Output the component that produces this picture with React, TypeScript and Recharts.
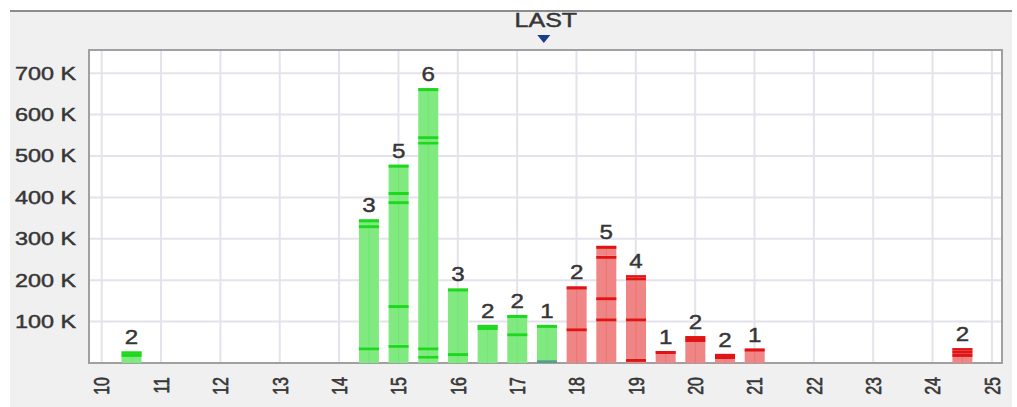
import React from 'react';
import {
  ComposedChart,
  Bar,
  XAxis,
  YAxis,
  CartesianGrid,
  ReferenceArea,
  ReferenceLine,
} from 'recharts';

// price levels of the order-book histogram
const prices = [10.5, 14.5, 15, 15.5, 16, 16.5, 17, 17.5, 18, 18.5, 19, 19.5, 20, 20.5, 21, 24.5];
// number of orders shown above each bar
const orderCounts = [2, 3, 5, 6, 3, 2, 2, 1, 2, 5, 4, 1, 2, 2, 1, 2];
// side of each bar
const sides = [
  'buy', 'buy', 'buy', 'buy', 'buy', 'buy', 'buy', 'buy',
  'sell', 'sell', 'sell', 'sell', 'sell', 'sell', 'sell', 'sell',
];
// cumulative volume (thousands) at each order line, bottom to top
const levelsK: number[][] = [
  [22, 28],
  [38, 333, 347],
  [44, 140, 391, 413, 479],
  [18, 38, 535, 548, 664],
  [24, 180],
  [87, 92],
  [72, 116],
  [92],
  [84, 185],
  [108, 159, 259, 283],
  [10, 108, 207, 212],
  [29],
  [58, 65],
  [17, 22],
  [35],
  [22, 30, 36],
];
// small mixed (teal) base volume in thousands
const baseK = [0, 0, 0, 0, 0, 0, 0, 7, 0, 0, 0, 0, 0, 0, 0, 0];

const xTicks = [10, 11, 12, 13, 14, 15, 16, 17, 18, 19, 20, 21, 22, 23, 24, 25];
const yTicks = [100000, 200000, 300000, 400000, 500000, 600000, 700000];
const xDomain = [9.786, 25.17];
const yDomain = [0, 756000];
const lastPrice = 17.45;

const MAX_SEG = 5;

const data = prices.map((p, i) => {
  const row: any = {
    price: p,
    count: orderCounts[i],
    side: sides[i],
    nLevels: levelsK[i].length,
    base: baseK[i] * 1000,
  };
  for (let k = 0; k < MAX_SEG; k++) {
    const lv = levelsK[i];
    if (k < lv.length) {
      const prev = k === 0 ? baseK[i] : lv[k - 1];
      row[`s${k}`] = (lv[k] - prev) * 1000;
    } else {
      row[`s${k}`] = 0;
    }
  }
  return row;
});

const FONT = 'Liberation Sans, Arial, sans-serif';
const TEXT = '#363636';
const TEXT_STROKE = 0.45;

const makeShape = (k: number) => (props: any) => {
  const { x, y, width, height, payload } = props;
  if (!(height > 0)) return <g />;
  const buy = payload.side === 'buy';
  const fill = buy ? '#80ea80' : '#ef8585';
  const line = buy ? '#1ed81e' : '#e01414';
  const isTop = k === payload.nLevels - 1;
  return (
    <g>
      <rect x={x} y={y} width={width} height={height} fill={fill} />
      <rect x={x + width / 2 - 0.5} y={y} width={1} height={height} fill={line} opacity={0.15} />
      <rect x={x} y={y} width={width} height={Math.min(3, height)} fill={line} />
      {isTop && (
        <text
          transform={`translate(${x + width / 2},${y - 7}) scale(1.15,1)`}
          textAnchor="middle"
          fontSize={21}
          fontFamily={FONT}
          fill={TEXT}
          stroke={TEXT}
          strokeWidth={TEXT_STROKE}
        >
          {payload.count}
        </text>
      )}
    </g>
  );
};

const baseShape = (props: any) => {
  const { x, y, width, height } = props;
  if (!(height > 0)) return <g />;
  return <rect x={x} y={y} width={width} height={height} fill="#52a08a" />;
};

const YTick = (props: any) => {
  const { x, y, payload } = props;
  return (
    <text
      transform={`translate(${x},${y}) scale(1.3,1)`}
      textAnchor="end"
      dy="0.36em"
      fontSize={18}
      fontFamily={FONT}
      fill={TEXT}
      stroke={TEXT}
      strokeWidth={TEXT_STROKE}
    >
      {`${payload.value / 1000} K`}
    </text>
  );
};

const XTick = (props: any) => {
  const { x, y, payload } = props;
  return (
    <text
      transform={`translate(${x},${y}) scale(1.35,1) rotate(-90)`}
      textAnchor="end"
      dy="0.36em"
      fontSize={16}
      fontFamily={FONT}
      fill={TEXT}
      stroke={TEXT}
      strokeWidth={TEXT_STROKE}
    >
      {payload.value}
    </text>
  );
};

const LastLabel = (props: any) => {
  const vb = props.viewBox || {};
  const cx = vb.x;
  const top = vb.y;
  return (
    <g>
      <text
        transform={`translate(${cx + 2},${top - 23}) scale(1.25,1)`}
        textAnchor="middle"
        fontSize={20}
        fontFamily={FONT}
        fill={TEXT}
        stroke={TEXT}
        strokeWidth={TEXT_STROKE}
      >
        LAST
      </text>
      <polygon
        points={`${cx - 6.5},${top - 15} ${cx + 6.5},${top - 15} ${cx},${top - 7}`}
        fill="#1c3a8f"
      />
    </g>
  );
};

export default function App() {
  return (
    <div
      style={{
        position: 'absolute',
        left: 0,
        top: 0,
        width: 1017,
        height: 407,
        background: '#ffffff',
        overflow: 'hidden',
      }}
    >
      <div
        style={{
          position: 'absolute',
          left: 10,
          top: 10,
          width: 1002,
          height: 397,
          background: '#f0f0f0',
          borderTop: '2px solid #8c8c8c',
          boxSizing: 'border-box',
        }}
      />
      <div style={{ position: 'absolute', left: 0, top: 0 }}>
        <ComposedChart
          width={1017}
          height={407}
          data={data}
          margin={{ top: 50, right: 15, bottom: 0, left: 0 }}
        >
          <CartesianGrid stroke="#e3e3ec" strokeWidth={2} fill="#ffffff" />
          <XAxis
            type="number"
            dataKey="price"
            domain={xDomain}
            allowDataOverflow
            ticks={xTicks}
            interval={0}
            height={44}
            tickSize={0}
            tickMargin={14}
            axisLine={false}
            tickLine={false}
            tick={<XTick />}
          />
          <YAxis
            type="number"
            domain={yDomain}
            allowDataOverflow
            ticks={yTicks}
            interval={0}
            width={89}
            tickSize={0}
            tickMargin={13}
            axisLine={false}
            tickLine={false}
            tick={<YTick />}
          />
          <ReferenceArea
            x1={xDomain[0]}
            x2={xDomain[1]}
            y1={yDomain[0]}
            y2={yDomain[1]}
            fill="none"
            stroke="#a0a0a0"
            strokeWidth={2}
            ifOverflow="visible"
          />
          <Bar dataKey="base" stackId="a" barSize={20} shape={baseShape} isAnimationActive={false} />
          {Array.from({ length: MAX_SEG }, (_, k) => (
            <Bar
              key={k}
              dataKey={`s${k}`}
              stackId="a"
              barSize={20}
              shape={makeShape(k)}
              isAnimationActive={false}
            />
          ))}
          <ReferenceLine x={lastPrice} stroke="none" label={<LastLabel />} />
        </ComposedChart>
      </div>
    </div>
  );
}
